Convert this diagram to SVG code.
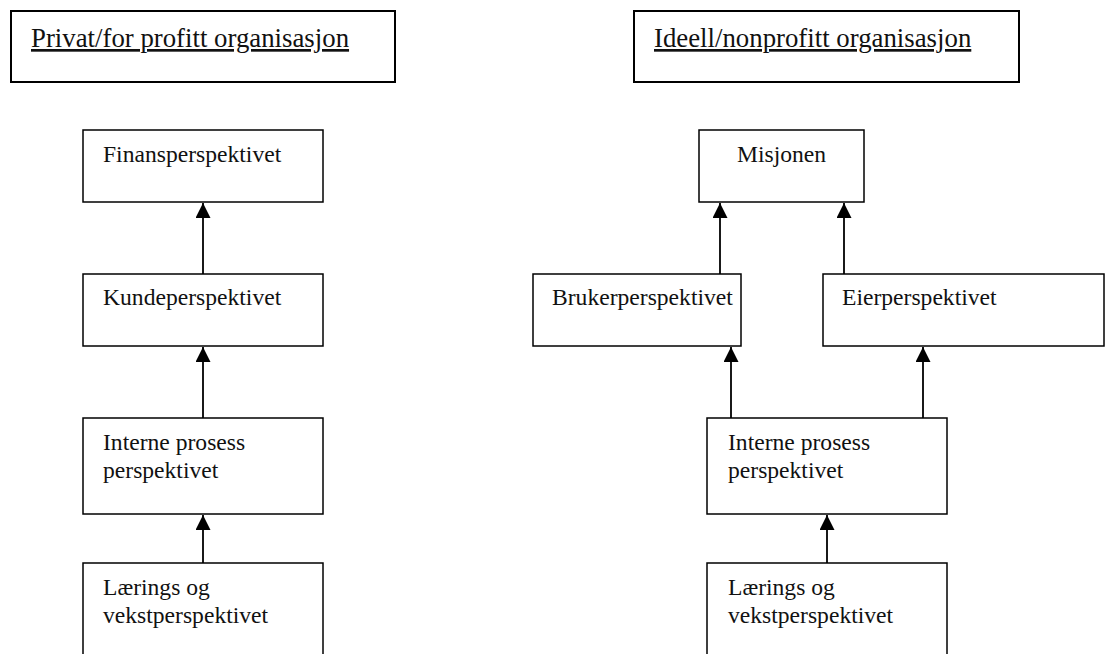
<svg xmlns="http://www.w3.org/2000/svg" width="1106" height="654" viewBox="0 0 1106 654">
  <style>
    .box { fill: #fff; stroke: #000; stroke-width: 1.5; }
    .title { fill: #fff; stroke: #000; stroke-width: 2; }
    .lbl { font-family: "Liberation Serif", "Times New Roman", serif; font-size: 23.6px; fill: #111; }
    .ttl { font-family: "Liberation Serif", "Times New Roman", serif; font-size: 26.8px; fill: #111; text-decoration: underline; }
    .edge { stroke: #000; stroke-width: 1.8; fill: none; marker-end: url(#arrow); }
  </style>
  <defs>
    <!-- filled triangular arrowhead, tip at the end of the line -->
    <marker id="arrow" markerUnits="userSpaceOnUse" markerWidth="15" markerHeight="15" viewBox="0 0 15 15" refX="15" refY="7.5" orient="auto">
      <path d="M0,0 L15,7.5 L0,15 Z" fill="#000"/>
    </marker>
  </defs>
  <rect width="1106" height="654" fill="#fff"/>

  <!-- column headers -->
  <g id="hdr-private">
    <rect class="title" x="11" y="11" width="384" height="71"/>
    <text class="ttl" x="31" y="47">Privat/for profitt organisasjon</text>
  </g>
  <g id="hdr-nonprofit">
    <rect class="title" x="634" y="11" width="385" height="71"/>
    <text class="ttl" x="654" y="47">Ideell/nonprofitt organisasjon</text>
  </g>

  <!-- connectors -->
  <g id="connectors">
    <line class="edge" x1="203" y1="274" x2="203" y2="203"/>
    <line class="edge" x1="203" y1="418" x2="203" y2="347"/>
    <line class="edge" x1="203" y1="563" x2="203" y2="515"/>
    <line class="edge" x1="720" y1="274" x2="720" y2="203"/>
    <line class="edge" x1="844" y1="274" x2="844" y2="203"/>
    <line class="edge" x1="731" y1="418" x2="731" y2="347"/>
    <line class="edge" x1="923" y1="418" x2="923" y2="347"/>
    <line class="edge" x1="827" y1="563" x2="827" y2="515"/>
  </g>

  <!-- private / for-profit column -->
  <g id="finans">
    <rect class="box" x="83" y="130" width="240" height="72"/>
    <text class="lbl" x="103" y="162">Finansperspektivet</text>
  </g>
  <g id="kunde">
    <rect class="box" x="83" y="274" width="240" height="72"/>
    <text class="lbl" x="103" y="305">Kundeperspektivet</text>
  </g>
  <g id="interne-l">
    <rect class="box" x="83" y="418" width="240" height="96"/>
    <text class="lbl" x="103" y="450">Interne prosess</text>
    <text class="lbl" x="103" y="478">perspektivet</text>
  </g>
  <g id="laering-l">
    <rect class="box" x="83" y="563" width="240" height="110"/>
    <text class="lbl" x="103" y="595">Lærings og</text>
    <text class="lbl" x="103" y="623">vekstperspektivet</text>
  </g>

  <!-- non-profit column -->
  <g id="misjonen">
    <rect class="box" x="699" y="130" width="165" height="72"/>
    <text class="lbl" x="781.5" y="162" text-anchor="middle">Misjonen</text>
  </g>
  <g id="bruker">
    <rect class="box" x="533" y="274" width="208" height="72"/>
    <text class="lbl" x="552" y="305">Brukerperspektivet</text>
  </g>
  <g id="eier">
    <rect class="box" x="823" y="274" width="281" height="72"/>
    <text class="lbl" x="842" y="305">Eierperspektivet</text>
  </g>
  <g id="interne-r">
    <rect class="box" x="707" y="418" width="240" height="96"/>
    <text class="lbl" x="728" y="450">Interne prosess</text>
    <text class="lbl" x="728" y="478">perspektivet</text>
  </g>
  <g id="laering-r">
    <rect class="box" x="707" y="563" width="240" height="110"/>
    <text class="lbl" x="728" y="595">Lærings og</text>
    <text class="lbl" x="728" y="623">vekstperspektivet</text>
  </g>
</svg>
